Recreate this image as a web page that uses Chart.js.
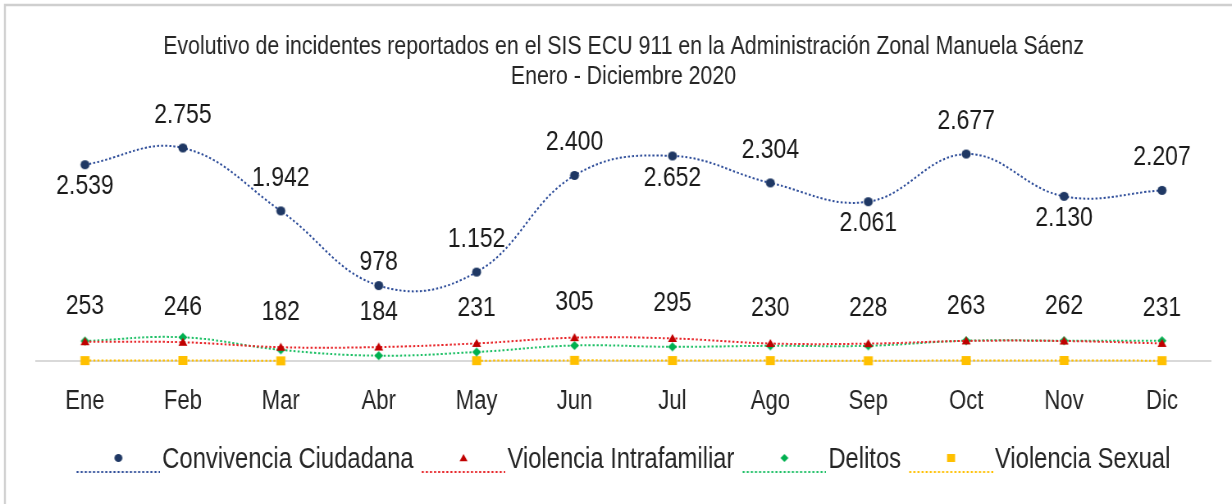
<!DOCTYPE html>
<html>
<head>
<meta charset="utf-8">
<script src="https://cdn.jsdelivr.net/npm/chart.js@4.4.0/dist/chart.umd.min.js"></script>
<style>
  html, body { margin: 0; padding: 0; background: #fff; }
  #wrap { width: 1232px; height: 504px; overflow: hidden; }
  /* no hay Arial Narrow: se dibuja mas ancho y se comprime en horizontal */
  #lineChart { transform: scaleX(0.8202); transform-origin: 0 0; }
</style>
</head>
<body>
<div id="wrap"><canvas id="lineChart" width="1502" height="504"></canvas></div>
<script>
// datos
var meses = ['Ene', 'Feb', 'Mar', 'Abr', 'May', 'Jun', 'Jul', 'Ago', 'Sep', 'Oct', 'Nov', 'Dic'];
var convivencia = [2539, 2755, 1942, 978, 1152, 2400, 2652, 2304, 2061, 2677, 2130, 2207];
var intrafamiliar = [253, 246, 182, 184, 231, 305, 295, 230, 228, 263, 262, 231];
var delitos = [262, 310, 148, 73, 120, 204, 187, 200, 200, 266, 266, 266];
var sexual = [9, 11, 6, null, 8, 12, 10, 9, 7, 10, 11, 8];
// donde va la etiqueta de Convivencia respecto al punto
var posConvivencia = ['abajo', 'arriba', 'arriba', 'cerca', 'arriba', 'arriba', 'abajo', 'arriba', 'abajo', 'arriba', 'abajo', 'arriba'];

var titulo = ['Evolutivo de incidentes reportados en el SIS ECU 911 en la Administración Zonal Manuela Sáenz', 'Enero - Diciembre 2020'];

var S = 1232 / 1502;   // compresion horizontal del canvas
var FONT = '"Liberation Sans", Arial, sans-serif';
var TXT = '#262626';

function formatoMiles(v) {
    return String(v).replace(/\B(?=(\d{3})+(?!\d))/g, '.');
}

// dibuja un marcador en coordenadas "visibles" (ya compensado el scaleX)
function pintarMarcador(g, tipo, cx, cy, size, color) {
    var h = size / 2;
    g.fillStyle = color;
    g.beginPath();
    if (tipo === 'circle') { g.arc(cx, cy, h, 0, Math.PI * 2); }
    else if (tipo === 'triangle') { g.moveTo(cx, cy - h); g.lineTo(cx + h, cy + h * 0.8); g.lineTo(cx - h, cy + h * 0.8); g.closePath(); }
    else if (tipo === 'rectRot') { g.moveTo(cx, cy - h); g.lineTo(cx + h, cy); g.lineTo(cx, cy + h); g.lineTo(cx - h, cy); g.closePath(); }
    else { g.rect(cx - h, cy - h, size, size); }
    g.fill();
}

function marcador(tipo, size, color) {
    var c = document.createElement('canvas');
    var vis = size + 2;
    c.width = Math.ceil(vis / S);
    c.height = vis;
    var g = c.getContext('2d');
    g.setTransform(1 / S, 0, 0, 1, 0, 0);
    pintarMarcador(g, tipo, vis / 2 * (c.width * S / vis), vis / 2, size, color);
    return c;
}

// icono de leyenda: linea punteada + marcador
function iconoLeyenda(tipo, size, color, lineColor) {
    var c = document.createElement('canvas');
    c.width = 114; c.height = 30;
    var g = c.getContext('2d');
    g.strokeStyle = lineColor;
    g.lineWidth = 2;
    g.setLineDash([2.5, 2.5]);
    g.beginPath(); g.moveTo(12, 27); g.lineTo(114, 27); g.stroke();
    g.setLineDash([]);
    g.setTransform(1 / S, 0, 0, 1, 0, 0);
    pintarMarcador(g, tipo, 63 * S, 13, size, color);
    return c;
}

var series = [
    { label: 'Convivencia Ciudadana', data: convivencia, color: '#1F3864', line: '#2F4E9A', style: 'circle', size: 9, leg: 8 },
    { label: 'Violencia Intrafamiliar', data: intrafamiliar, color: '#C00000', line: '#E8262A', style: 'triangle', size: 9, leg: 8 },
    { label: 'Delitos', data: delitos, color: '#00B050', line: '#1EC066', style: 'rectRot', size: 9, leg: 8 },
    { label: 'Violencia Sexual', data: sexual, color: '#FFC000', line: '#FFC000', style: 'rect', size: 9, leg: 8 }
];

var legendIcons = series.map(function (s) { return iconoLeyenda(s.style, s.leg, s.color, s.line); });

var datasets = series.map(function (s) {
    return {
        label: s.label,
        data: s.data,
        borderColor: s.line,
        backgroundColor: s.color,
        pointStyle: marcador(s.style, s.size, s.color),
        pointRadius: 5,
        borderWidth: 2,
        borderDash: [2.5, 2.5],
        tension: 0.4,
        spanGaps: false,
        clip: false
    };
});

var marco = {
    id: 'marco',
    beforeDraw: function (chart) {
        var ctx = chart.ctx;
        ctx.save();
        ctx.fillStyle = '#fff';
        ctx.fillRect(0, 0, chart.width, chart.height);
        ctx.strokeStyle = '#cfcfcf';
        ctx.lineWidth = 2.4;
        ctx.beginPath();
        ctx.moveTo(6, chart.height); ctx.lineTo(6, 5); ctx.lineTo(chart.width, 5);
        ctx.stroke();
        ctx.restore();
    }
};

var etiquetas = {
    id: 'etiquetas',
    afterDatasetsDraw: function (chart) {
        var ctx = chart.ctx;
        ctx.save();
        ctx.font = '28px ' + FONT;
        ctx.fillStyle = '#1a1a1a';
        ctx.textAlign = 'center';
        ctx.textBaseline = 'middle';
        // Convivencia Ciudadana
        chart.getDatasetMeta(0).data.forEach(function (pt, j) {
            var p = posConvivencia[j];
            var y = p === 'abajo' ? pt.y + 22 : (p === 'cerca' ? pt.y - 23 : pt.y - 33);
            ctx.fillText(formatoMiles(convivencia[j]), pt.x, y);
        });
        // Violencia Intrafamiliar
        chart.getDatasetMeta(1).data.forEach(function (pt, j) {
            ctx.fillText(formatoMiles(intrafamiliar[j]), pt.x, pt.y - 35);
        });
        ctx.restore();
    }
};

var ctx = document.getElementById('lineChart').getContext('2d');
var myChart = new Chart(ctx, {
    type: 'line',
    data: { labels: meses, datasets: datasets },
    options: {
        responsive: false,
        animation: false,
        devicePixelRatio: 1,
        layout: { padding: { left: 36 / S, right: 21 / S, top: 0, bottom: 19.5 } },
        plugins: {
            title: {
                display: true,
                text: titulo,
                color: TXT,
                font: { family: FONT, size: 26, weight: 'normal', lineHeight: 30 / 26 },
                padding: { top: 32, bottom: 37 }
            },
            legend: {
                position: 'bottom',
                labels: {
                    usePointStyle: true,
                    pointStyleWidth: 90,
                    padding: 10,
                    color: TXT,
                    font: { family: FONT, size: 29 },
                    generateLabels: function (chart) {
                        return chart.data.datasets.map(function (ds, i) {
                            return {
                                text: ds.label,
                                pointStyle: legendIcons[i],
                                datasetIndex: i,
                                fillStyle: ds.backgroundColor,
                                strokeStyle: ds.borderColor,
                                lineWidth: 0,
                                hidden: false,
                                fontColor: TXT
                            };
                        });
                    }
                }
            },
            tooltip: { enabled: false }
        },
        scales: {
            x: {
                offset: true,
                grid: { display: false, drawTicks: false },
                border: { display: true, color: '#d9d9d9', width: 2 },
                ticks: { color: TXT, padding: 24, font: { family: FONT, size: 27 } },
                afterFit: function (scale) { scale.height = 74.2; }
            },
            y: {
                display: false,
                min: 0,
                max: 3000
            }
        }
    },
    plugins: [marco, etiquetas]
});
</script>
</body>
</html>
